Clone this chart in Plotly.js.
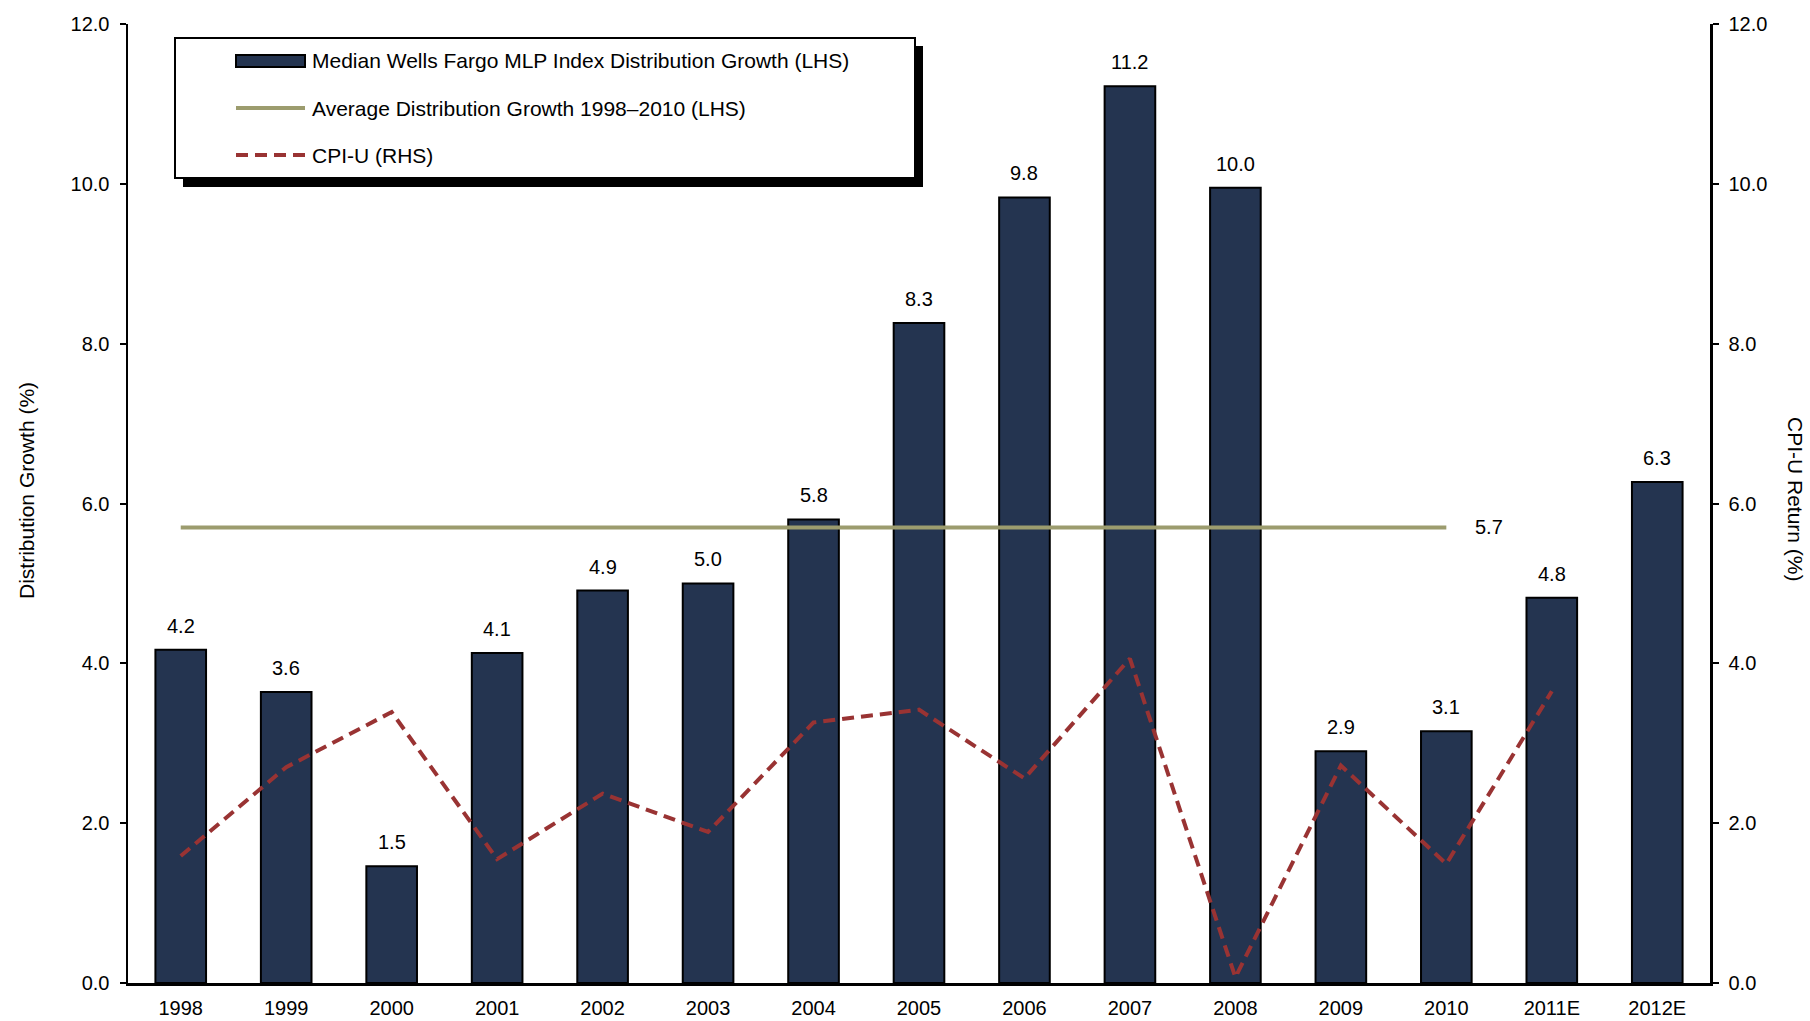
<!DOCTYPE html>
<html>
<head>
<meta charset="utf-8">
<script src="https://cdn.plot.ly/plotly-3.0.1.min.js"></script>
<style>
  html, body { margin: 0; padding: 0; background: #ffffff; }
  #chart { width: 1810px; height: 1021px; }
</style>
</head>
<body>
<div id="chart"></div>
<script>
// ---------- data ----------
const years = ["1998","1999","2000","2001","2002","2003","2004","2005","2006","2007","2008","2009","2010","2011E","2012E"];
const distGrowth = [4.17, 3.64, 1.46, 4.13, 4.91, 5.0, 5.8, 8.26, 9.83, 11.22, 9.95, 2.9, 3.15, 4.82, 6.27];
const distLabels = ["4.2","3.6","1.5","4.1","4.9","5.0","5.8","8.3","9.8","11.2","10.0","2.9","3.1","4.8","6.3"];
const cpiYears = ["1998","1999","2000","2001","2002","2003","2004","2005","2006","2007","2008","2009","2010","2011E"];
const cpiU = [1.59, 2.70, 3.39, 1.55, 2.37, 1.89, 3.26, 3.42, 2.56, 4.06, 0.07, 2.72, 1.49, 3.65];
const avgYears = ["1998","2010"];
const avgValue = 5.7;
const avgLabel = "5.7";
const seriesNames = [
  "Median Wells Fargo MLP Index Distribution Growth (LHS)",
  "Average Distribution Growth 1998\u20132010 (LHS)",
  "CPI-U (RHS)"
];
const yTitle = "Distribution Growth (%)";
const y2Title = "CPI-U Return (%)";

// ---------- styling ----------
const W = 1810, H = 1021;
const PL = 128, PR = 1710, PT = 24, PB = 983;
const FONT = "Liberation Sans, Arial, Helvetica, sans-serif";
const NAVY = "#243450", OLIVE = "#9c9c6e", RED = "#993333";
const px = x => (x - PL) / (PR - PL);
const py = y => (PB - y) / (PB - PT);

const traces = [
  {
    type: "bar", x: years, y: distGrowth, name: seriesNames[0],
    width: 0.48,
    marker: { color: NAVY, line: { color: "#000000", width: 2 } },
    showlegend: false, hoverinfo: "x+y"
  },
  {
    type: "scatter", mode: "lines", x: avgYears, y: [avgValue, avgValue], name: seriesNames[1],
    line: { color: OLIVE, width: 4 }, showlegend: false
  },
  {
    type: "scatter", mode: "lines", x: cpiYears, y: cpiU, name: seriesNames[2], yaxis: "y2",
    line: { color: RED, width: 4, dash: "12px,7px" }, showlegend: false
  }
];

const annotations = [];
years.forEach((yr, i) => {
  annotations.push({
    x: i, y: distGrowth[i], xref: "x", yref: "y", text: distLabels[i],
    showarrow: false, yanchor: "middle", yshift: 24,
    font: { family: FONT, size: 20, color: "#000000" }
  });
});
// avg label to the right of the line end
annotations.push({
  x: years.indexOf(avgYears[1]) + 0.4, y: avgValue, xref: "x", yref: "y", text: avgLabel,
  showarrow: false, xanchor: "center", yanchor: "middle",
  font: { family: FONT, size: 20, color: "#000000" }
});
// axis titles
annotations.push({
  xref: "paper", yref: "paper", x: px(27), y: py(491), text: yTitle, textangle: -90,
  showarrow: false, xanchor: "center", yanchor: "middle",
  font: { family: FONT, size: 21, color: "#000000" }
});
annotations.push({
  xref: "paper", yref: "paper", x: px(1795), y: py(499), text: y2Title, textangle: 90,
  showarrow: false, xanchor: "center", yanchor: "middle",
  font: { family: FONT, size: 21, color: "#000000" }
});
// legend text
const legRowsY = [61, 108, 155];
seriesNames.forEach((nm, i) => {
  annotations.push({
    xref: "paper", yref: "paper", x: px(310), y: py(legRowsY[i]), text: nm,
    showarrow: false, xanchor: "left", yanchor: "middle",
    font: { family: FONT, size: 21, color: "#000000" }
  });
});

const shapes = [
  // legend shadow
  { type: "rect", xref: "paper", yref: "paper", x0: px(183), x1: px(923), y0: py(46), y1: py(187),
    fillcolor: "#000000", line: { width: 0 }, layer: "above" },
  // legend box
  { type: "rect", xref: "paper", yref: "paper", x0: px(175), x1: px(915), y0: py(38), y1: py(178),
    fillcolor: "#ffffff", line: { color: "#000000", width: 2 }, layer: "above" },
  // legend symbols
  { type: "rect", xref: "paper", yref: "paper", x0: px(236), x1: px(305), y0: py(55), y1: py(67),
    fillcolor: NAVY, line: { color: "#000000", width: 2 }, layer: "above" },
  { type: "line", xref: "paper", yref: "paper", x0: px(236), x1: px(305), y0: py(108), y1: py(108),
    line: { color: OLIVE, width: 4 }, layer: "above" },
  { type: "line", xref: "paper", yref: "paper", x0: px(236), x1: px(305), y0: py(155), y1: py(155),
    line: { color: RED, width: 4, dash: "12px,7px" }, layer: "above" }
];

const axisFont = { family: FONT, size: 20, color: "#000000" };
const layout = {
  width: W, height: H,
  margin: { l: PL, r: W - PR, t: PT, b: H - PB, pad: 0 },
  paper_bgcolor: "#ffffff", plot_bgcolor: "#ffffff",
  font: { family: FONT, size: 20, color: "#000000" },
  showlegend: false,
  bargap: 0.52,
  xaxis: {
    type: "category", range: [-0.5, 14.5], showgrid: false, zeroline: false,
    showline: true, linecolor: "#000000", linewidth: 2.5, ticks: "",
    ticklabelstandoff: 5,
    tickfont: axisFont, fixedrange: true
  },
  yaxis: {
    range: [0, 12], dtick: 2, tickformat: ".1f", showgrid: false, zeroline: false,
    showline: true, linecolor: "#000000", linewidth: 2.5,
    ticks: "outside", ticklen: 6, tickwidth: 2, tickcolor: "#000000",
    ticklabelstandoff: 6,
    tickfont: axisFont, fixedrange: true
  },
  yaxis2: {
    overlaying: "y", side: "right", range: [0, 12], dtick: 2, tickformat: ".1f",
    showgrid: false, zeroline: false,
    showline: true, linecolor: "#000000", linewidth: 2.5,
    ticks: "outside", ticklen: 6, tickwidth: 2, tickcolor: "#000000",
    ticklabelstandoff: 6,
    tickfont: axisFont, fixedrange: true
  },
  annotations: annotations,
  shapes: shapes
};

Plotly.newPlot("chart", traces, layout, { displayModeBar: false, staticPlot: true });
</script>
</body>
</html>
